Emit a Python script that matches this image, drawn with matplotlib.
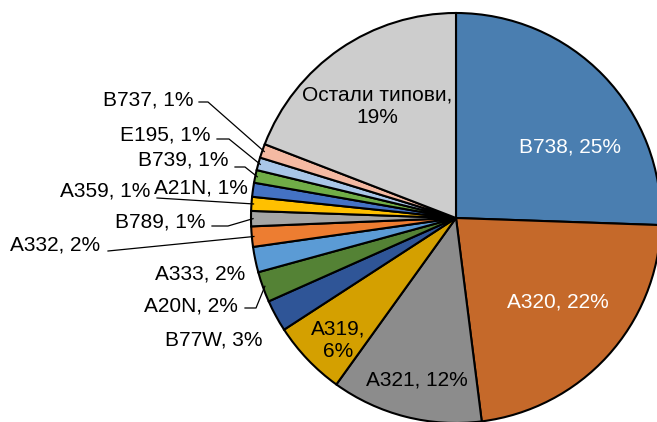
import matplotlib
matplotlib.use("Agg")
import matplotlib.pyplot as plt
import numpy as np

plt.rcParams['font.family'] = ['Liberation Sans', 'DejaVu Sans']

categories = ["B738", "A320", "A321", "A319", "B77W", "A20N", "A333", "A332",
              "B789", "A359", "A21N", "B739", "E195", "B737", "Остали типови"]
values = [25.5, 22.4, 11.9, 5.9, 2.5, 2.4, 2.0, 1.6, 1.2, 1.1, 1.1, 1.0, 1.0, 1.1, 19.1]
pct_labels = ["25%", "22%", "12%", "6%", "3%", "2%", "2%", "2%",
              "1%", "1%", "1%", "1%", "1%", "1%", "19%"]
colors = ["#4A7EB0", "#C5692A", "#8C8C8C", "#D4A000", "#2F5597", "#548235",
          "#5B9BD5", "#ED7D31", "#A5A5A5", "#FFC000", "#4472C4", "#70AD47",
          "#A9C6E8", "#F4B9A2", "#CDCDCD"]

W, H = 657, 422
CX, CY, R = 456, 218, 205

fig = plt.figure(figsize=(W / 100, H / 100), dpi=100)
ax = fig.add_axes([0, 0, 1, 1])

def px(x, y):
    return ((x - CX) / R, (CY - y) / R)

wedges, _ = ax.pie(values, colors=colors, startangle=90, counterclock=False,
                   radius=1.0, center=(0, 0), frame=True,
                   wedgeprops=dict(edgecolor='black', linewidth=1.5))
ax.set_xlim(-CX / R, (W - CX) / R)
ax.set_ylim((CY - H) / R, CY / R)
ax.axis('off')

FS = 15
# inside labels: (index, pixel center, text color, two-line?)
inside = {
    0: ((570, 147), 'white', False),
    1: ((558, 302), 'white', False),
    2: ((417, 380), 'black', False),
    3: ((338, 340), 'black', True),
    14: ((377, 106), 'black', True),
}
for i, ((x, y), col, two) in inside.items():
    sep = ",\n" if two else ", "
    tx, ty = px(x, y)
    ax.text(tx, ty, categories[i] + sep + pct_labels[i], color=col, fontsize=FS,
            ha='center', va='center', linespacing=1.25)

# outside labels: index -> (text right x, text center y, leader points or None)
outside = {
    4: ((262, 340), None),
    5: ((238, 306), [(245, 308), (256, 308)]),
    6: ((245, 274), None),
    7: ((100, 245), [(108, 251)]),
    8: ((205, 222), [(212, 226), (228, 226)]),
    9: ((150, 191), [(157, 198)]),
    10: ((248, 188), None),
    11: ((228, 160), [(235, 167), (245, 167)]),
    12: ((210, 135), [(217, 139), (229, 139)]),
    13: ((193, 100), [(199, 102), (208, 102)]),
}
for i, ((x, y), pts) in outside.items():
    tx, ty = px(x, y)
    ax.text(tx, ty, categories[i] + ", " + pct_labels[i], color='black',
            fontsize=FS, ha='right', va='center')
    if pts:
        w = wedges[i]
        mid = np.deg2rad((w.theta1 + w.theta2) / 2)
        ex, ey = 0.99 * np.cos(mid), 0.99 * np.sin(mid)
        xs = [px(*p)[0] for p in pts] + [ex]
        ys = [px(*p)[1] for p in pts] + [ey]
        ax.plot(xs, ys, color='black', linewidth=0.9, zorder=5)

fig.savefig("out.png", dpi=100)
